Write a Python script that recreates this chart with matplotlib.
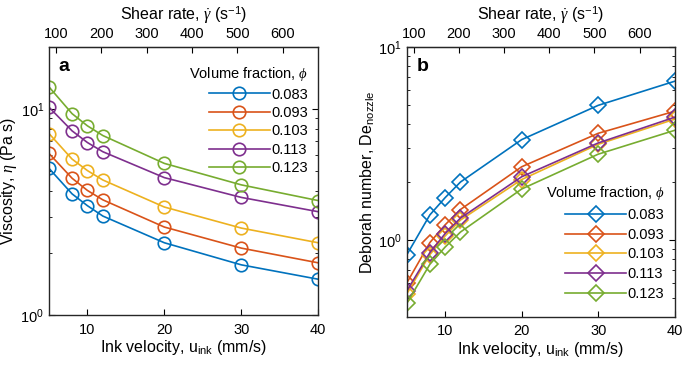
import numpy as np
import matplotlib
matplotlib.use("Agg")
import matplotlib.pyplot as plt
from matplotlib.ticker import NullFormatter

plt.rcParams['font.family'] = ['Liberation Sans', 'DejaVu Sans']
plt.rcParams['mathtext.fontset'] = 'custom'
plt.rcParams['mathtext.rm'] = 'Liberation Sans'
plt.rcParams['mathtext.sf'] = 'Liberation Sans'
plt.rcParams['mathtext.it'] = 'Liberation Serif:italic'
plt.rcParams['mathtext.bf'] = 'Liberation Sans:bold'

# ink velocity (mm/s)
u_ink = [5, 8, 10, 12, 20, 30, 40]
fractions = ['0.083', '0.093', '0.103', '0.113', '0.123']
colors = ['#0072BD', '#D95319', '#EDB120', '#7E2F8E', '#77AC30']

# panel a - viscosity (Pa s)
visc_083 = [5.15, 3.87, 3.39, 3.02, 2.24, 1.75, 1.49]
visc_093 = [6.08, 4.61, 4.02, 3.62, 2.67, 2.11, 1.79]
visc_103 = [7.60, 5.71, 5.02, 4.52, 3.34, 2.64, 2.24]
visc_113 = [10.2, 7.83, 6.87, 6.20, 4.64, 3.72, 3.17]
visc_123 = [12.8, 9.49, 8.28, 7.43, 5.44, 4.28, 3.59]

# panel b - Deborah number
de_083 = [0.84, 1.35, 1.66, 2.00, 3.32, 5.00, 6.67]
de_093 = [0.60, 0.97, 1.20, 1.44, 2.40, 3.58, 4.66]
de_103 = [0.527, 0.84, 1.05, 1.27, 2.06, 3.14, 4.24]
de_113 = [0.545, 0.86, 1.08, 1.30, 2.13, 3.19, 4.34]
de_123 = [0.47, 0.748, 0.92, 1.10, 1.84, 2.79, 3.71]

shear_ticks = [100, 200, 300, 400, 500, 600]
shear_per_u = 16.95  # shear rate (1/s) per mm/s of ink velocity


def style_axes(ax):
    ax.set_yscale('log')
    ax.set_xlim(5, 40)
    ax.set_xticks([10, 20, 30, 40])
    ax.yaxis.set_minor_formatter(NullFormatter())
    ax.tick_params(which='both', direction='in', right=True, top=False, labelsize=10.5)
    ax.tick_params(axis='x', pad=5.5)
    ax.tick_params(which='major', length=4)
    ax.tick_params(which='minor', length=2.5)
    for s in ax.spines.values():
        s.set_linewidth(1.0)
        s.set_color('#262626')
    ax.set_xlabel('Ink velocity, u$_{\\mathrm{ink}}$ (mm/s)', fontsize=11.5, labelpad=1)
    top = ax.secondary_xaxis('top', functions=(lambda u: u * shear_per_u, lambda g: g / shear_per_u))
    top.set_xticks(shear_ticks)
    top.tick_params(direction='in', length=4, labelsize=10.5, pad=4.5)
    top.set_xlabel('Shear rate, $\\dot{\\gamma}$ (s$^{-1}$)', fontsize=11.5, labelpad=5)


def plot_panel(ax, series, marker, ms):
    for ys, c, lab in zip(series, colors, fractions):
        ax.plot(u_ink, ys, color=c, marker=marker, markersize=ms, markerfacecolor='none',
                markeredgewidth=1.2, linewidth=1.2, label=lab)


def main():
    fig = plt.figure(figsize=(6.85, 3.67), dpi=100)
    ax1 = fig.add_axes([0.0715, 0.142, 0.393, 0.730])
    ax2 = fig.add_axes([0.594, 0.137, 0.391, 0.734])

    plot_panel(ax1, [visc_083, visc_093, visc_103, visc_113, visc_123], 'o', 9)
    style_axes(ax1)
    ax1.set_ylim(1, 20)
    ax1.set_ylabel('Viscosity, $\\eta$ (Pa s)', fontsize=11.5, labelpad=1)
    ax1.text(0.035, 0.96, 'a', transform=ax1.transAxes, fontsize=14, fontweight='bold', va='top')
    leg1 = ax1.legend(title='Volume fraction, $\\phi$', loc='upper right', frameon=False,
                      fontsize=10.5, title_fontsize=10.5, handlelength=4.2, labelspacing=0.3,
                      handletextpad=0.1, borderaxespad=0.3, bbox_to_anchor=(1.0, 0.97))
    leg1._legend_box.align = 'right'

    plot_panel(ax2, [de_083, de_093, de_103, de_113, de_123], 'D', 8.5)
    style_axes(ax2)
    ax2.set_ylim(0.4, 10)
    ax2.set_ylabel('Deborah number, De$_{\\mathrm{nozzle}}$', fontsize=11.5, labelpad=1)
    ax2.text(0.035, 0.96, 'b', transform=ax2.transAxes, fontsize=14, fontweight='bold', va='top')
    leg2 = ax2.legend(title='Volume fraction, $\\phi$', loc='lower right', frameon=False,
                      fontsize=10.5, title_fontsize=10.5, handlelength=4.2, labelspacing=0.4,
                      handletextpad=0.1, borderaxespad=0.3, bbox_to_anchor=(1.0, 0.02))
    leg2._legend_box.align = 'right'

    fig.savefig('out.png', dpi=100)


if __name__ == "__main__":
    main()
